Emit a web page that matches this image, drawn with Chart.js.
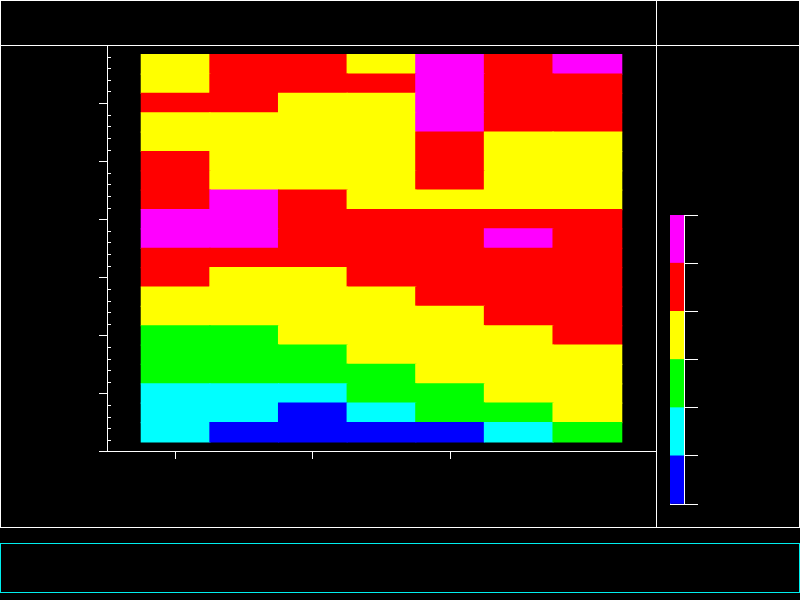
<!DOCTYPE html>
<html>
<head>
<meta charset="utf-8">
<script src="https://cdn.jsdelivr.net/npm/chart.js@4.4.1/dist/chart.umd.min.js"></script>
<style>
  html, body { margin: 0; padding: 0; background: #000; }
  #wrap { position: relative; width: 800px; height: 600px; }
  #main { position: absolute; left: 0; top: 0; }
  #cbar { position: absolute; left: 660px; top: 205px; }
</style>
</head>
<body>
<div id="wrap">
  <canvas id="main" width="800" height="600"></canvas>
  <canvas id="cbar" width="50" height="310"></canvas>
</div>
<script>
// ---- data ----
const xCenters = [0, 1, 2, 3, 4, 5, 6];
const yCenters = [0, 1, 2, 3, 4, 5, 6, 7, 8, 9, 10, 11, 12, 13, 14, 15, 16, 17, 18, 19];
const xTicks = [0, 2, 4];
const yMajorTicks = [-1, 2, 5, 8, 11, 14, 17, 20];
const levelTicks = [0, 1, 2, 3, 4, 5, 6];
const levelColors = ["#0000ff", "#00ffff", "#00ff00", "#ffff00", "#ff0000", "#ff00ff"];

// level index per cell, one row per y (bottom row first), one entry per x
const row0  = [1, 0, 0, 0, 0, 1, 2];
const row1  = [1, 1, 0, 1, 2, 2, 3];
const row2  = [1, 1, 1, 2, 2, 3, 3];
const row3  = [2, 2, 2, 2, 3, 3, 3];
const row4  = [2, 2, 2, 3, 3, 3, 3];
const row5  = [2, 2, 3, 3, 3, 3, 4];
const row6  = [3, 3, 3, 3, 3, 4, 4];
const row7  = [3, 3, 3, 3, 4, 4, 4];
const row8  = [4, 3, 3, 4, 4, 4, 4];
const row9  = [4, 4, 4, 4, 4, 4, 4];
const row10 = [5, 5, 4, 4, 4, 5, 4];
const row11 = [5, 5, 4, 4, 4, 4, 4];
const row12 = [4, 5, 4, 3, 3, 3, 3];
const row13 = [4, 3, 3, 3, 4, 3, 3];
const row14 = [4, 3, 3, 3, 4, 3, 3];
const row15 = [3, 3, 3, 3, 4, 3, 3];
const row16 = [3, 3, 3, 3, 5, 4, 4];
const row17 = [4, 4, 3, 3, 5, 4, 4];
const row18 = [3, 4, 4, 4, 5, 4, 4];
const row19 = [3, 4, 4, 3, 5, 4, 5];
const levels = [row0, row1, row2, row3, row4, row5, row6, row7, row8, row9,
                row10, row11, row12, row13, row14, row15, row16, row17, row18, row19];

const WHITE = "#ffffff";

// frame lines of the page panels, drawn under the chart
const framePlugin = {
  id: "frame",
  beforeDraw(chart) {
    const ctx = chart.ctx;
    ctx.save();
    ctx.fillStyle = "#000";
    ctx.fillRect(0, 0, chart.width, chart.height);
    ctx.lineWidth = 1;
    ctx.strokeStyle = WHITE;
    ctx.strokeRect(0.5, 0.5, 799, 527);
    ctx.beginPath();
    ctx.moveTo(656.5, 0); ctx.lineTo(656.5, 528);
    ctx.moveTo(0, 45.5); ctx.lineTo(800, 45.5);
    ctx.stroke();
    ctx.strokeStyle = "#00eeee";
    ctx.strokeRect(0.5, 543.5, 799, 49);
    ctx.restore();
  }
};

// inward minor ticks on the y axis (5 per major step)
const minorTicks = {
  id: "minorTicks",
  afterDraw(chart) {
    const s = chart.scales.y, ctx = chart.ctx;
    ctx.save();
    ctx.strokeStyle = WHITE;
    ctx.lineWidth = 1;
    ctx.beginPath();
    for (let i = 0; i < yMajorTicks.length - 1; i++) {
      const a = yMajorTicks[i], b = yMajorTicks[i + 1];
      for (let k = 1; k < 5; k++) {
        const y = Math.round(s.getPixelForValue(a + (b - a) * k / 5)) + 0.5;
        ctx.moveTo(s.right, y);
        ctx.lineTo(s.right + 4, y);
      }
    }
    ctx.stroke();
    ctx.restore();
  }
};

new Chart(document.getElementById("main"), {
  type: "bar",
  data: {
    datasets: yCenters.map((yc, r) => ({
      data: xCenters.map((xc) => ({ x: xc, y: [yc - 0.5, yc + 0.5] })),
      backgroundColor: levels[r].map((l) => levelColors[l]),
      borderWidth: 0,
      inflateAmount: 0.6,
      grouped: false,
      barPercentage: 1,
      categoryPercentage: 1,
    })),
  },
  options: {
    responsive: false,
    animation: false,
    devicePixelRatio: 1,
    events: [],
    layout: { padding: { left: 99, top: 45, right: 144, bottom: 141 } },
    plugins: { legend: { display: false }, tooltip: { enabled: false } },
    scales: {
      x: {
        type: "linear", min: -1, max: 7, offset: false,
        afterBuildTicks: (s) => { s.ticks = xTicks.map((v) => ({ value: v })); },
        ticks: { display: false },
        grid: { offset: false, drawOnChartArea: false, color: WHITE, tickLength: 8 },
        border: { color: WHITE, width: 1 },
      },
      y: {
        type: "linear", min: -0.97, max: 20,
        afterBuildTicks: (s) => { s.ticks = yMajorTicks.map((v) => ({ value: v })); },
        ticks: { display: false },
        grid: { drawOnChartArea: false, color: WHITE, tickLength: 8 },
        border: { color: WHITE, width: 1 },
      },
    },
  },
  plugins: [framePlugin, minorTicks],
});

// ---- colour bar ----
new Chart(document.getElementById("cbar"), {
  type: "bar",
  data: {
    labels: [""],
    datasets: levelColors.map((c, i) => ({
      data: [levelTicks[i + 1] - levelTicks[i]],
      backgroundColor: c,
      borderWidth: 0,
      barPercentage: 1,
      categoryPercentage: 1,
    })),
  },
  options: {
    responsive: false,
    animation: false,
    devicePixelRatio: 1,
    events: [],
    layout: { padding: { left: 10, right: 12, top: 10, bottom: 11 } },
    plugins: { legend: { display: false }, tooltip: { enabled: false } },
    scales: {
      x: { display: false, stacked: true },
      y: {
        position: "right", stacked: true, min: 0, max: 6, z: 1,
        afterBuildTicks: (s) => { s.ticks = levelTicks.map((v) => ({ value: v })); },
        ticks: { display: false },
        grid: { color: WHITE, tickLength: 14, drawOnChartArea: true },
        border: { color: WHITE, width: 1 },
      },
      yl: {
        axis: "y", position: "left", min: 0, max: 6, z: 1,
        ticks: { display: false },
        grid: { display: false, drawTicks: false },
        border: { display: true, color: WHITE, width: 1 },
      },
    },
  },
});
</script>
</body>
</html>
